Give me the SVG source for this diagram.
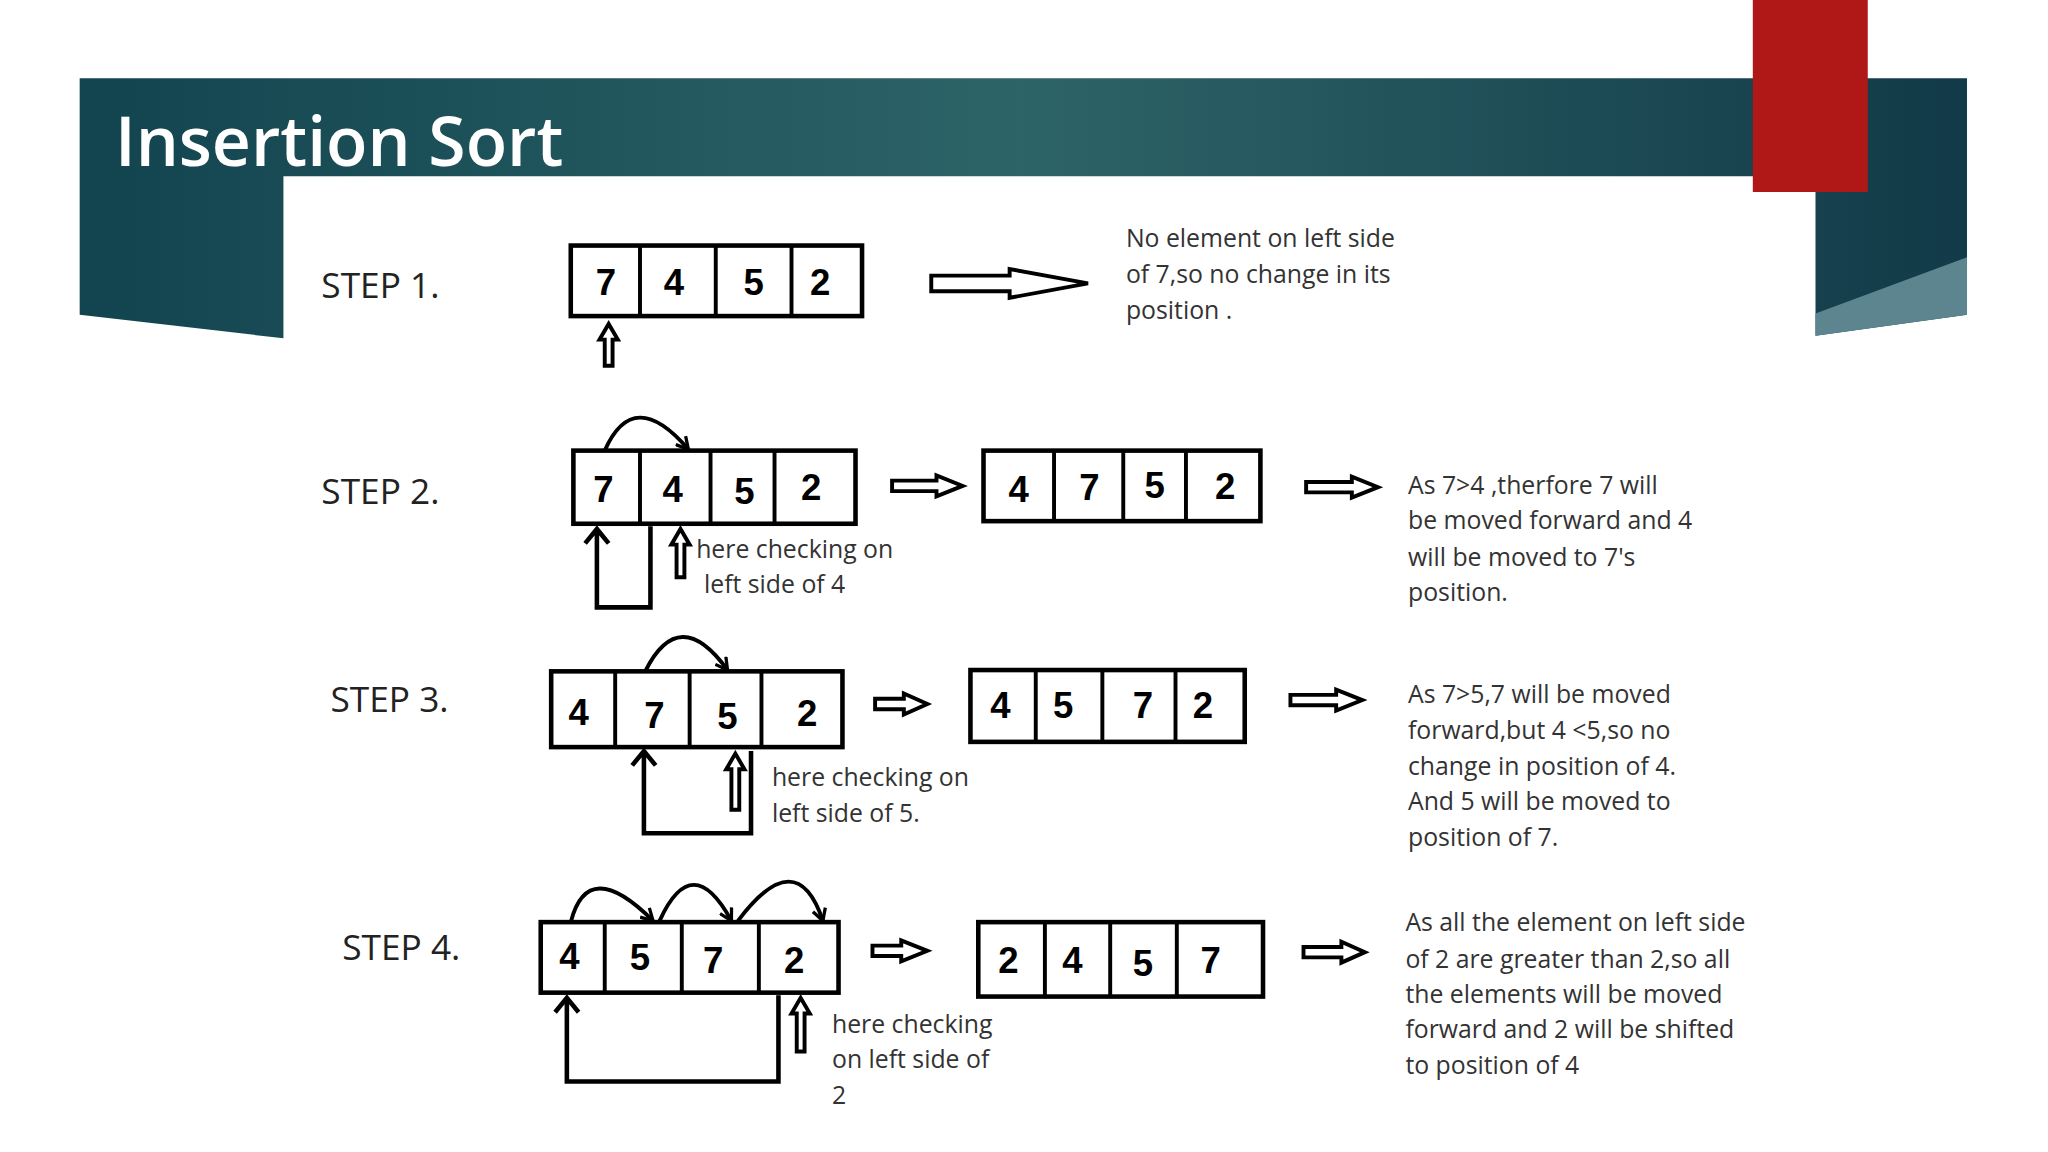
<svg xmlns="http://www.w3.org/2000/svg" width="2048" height="1152" viewBox="0 0 2048 1152">
<defs>
<linearGradient id="bg" x1="0" y1="0" x2="1" y2="0"><stop offset="0" stop-color="#12444f"/><stop offset="0.5" stop-color="#2d6468"/><stop offset="1" stop-color="#123a48"/></linearGradient>
<marker id="ah" viewBox="0 0 12 12" refX="10" refY="6" markerWidth="12" markerHeight="12" markerUnits="userSpaceOnUse" orient="auto"><path d="M1,1 L10,6 L1,11" fill="none" stroke="#000" stroke-width="2.5"/></marker>
</defs>
<style>
.b{fill:#fff;stroke:#000;stroke-width:3.5}
.d{stroke:#000;stroke-width:3}
.n{font-family:"Liberation Sans",Arial,sans-serif;font-weight:bold;font-size:28px;text-anchor:middle}
.s{font-family:"Open Sans","DejaVu Sans",sans-serif;font-size:27px;fill:#222}
.t{font-family:"Open Sans","DejaVu Sans",sans-serif;font-size:19px;fill:#333}
.a{fill:#fff;stroke:#000;stroke-width:3}
.l{fill:none;stroke:#000;stroke-width:3.5}
.c{fill:none;stroke:#000;stroke-width:3;marker-end:url(#ah)}
</style>
<rect width="2048" height="1152" fill="#fff"/>
<g transform="scale(1.30612)">
<g id="banner">
<path d="M61,60 L1506,60 L1506,241 L1390,257 L1390,135 L217,135 L217,259 L61,241 Z" fill="url(#bg)"/>
<path d="M1390,240 L1506,197 L1506,241 L1390,257 Z" fill="#5d8590"/>
<rect x="1342" y="0" width="88" height="147" fill="#b01818"/>
<text x="88" y="127" font-family="Open Sans,DejaVu Sans,sans-serif" font-weight="600" font-size="52" fill="#fff">Insertion Sort</text>
</g>
<g id="step1">
<text class="s" x="246" y="228">STEP 1.</text>
<rect class="b" x="437" y="188" width="223" height="54"/>
<path class="d" d="M490,188V242M548,188V242M606,188V242"/>
<text class="n" x="464" y="226">7</text><text class="n" x="516" y="226">4</text><text class="n" x="577" y="226">5</text><text class="n" x="628" y="226">2</text>
<path class="a" d="M463,280 L463,260 L459,260 L466,248 L473,260 L469,260 L469,280 Z"/>
<path class="a" d="M713,211 L773,211 L773,206 L833,217 L773,228 L773,223 L713,223 Z"/>
<text class="t" x="862" y="189">No element on left side</text>
<text class="t" x="862" y="217">of 7,so no change in its</text>
<text class="t" x="862" y="244">position .</text>
</g>
<g id="step2">
<text class="s" x="246" y="386">STEP 2.</text>
<rect class="b" x="439" y="345" width="216" height="56"/>
<path class="d" d="M490,345V401M544,345V401M593,345V401"/>
<text class="n" x="462" y="384">7</text><text class="n" x="515" y="384">4</text><text class="n" x="570" y="386">5</text><text class="n" x="621" y="383">2</text>
<path class="c" d="M463,345 Q485,295 527,344"/>
<path class="l" d="M498,403 L498,465 L457,465 L457,405 M448,416 L457,405 L466,416"/>
<path class="a" d="M518,442 L518,417 L514,417 L521,405 L528,417 L524,417 L524,442 Z"/>
<text class="t" x="533" y="427">here checking on</text>
<text class="t" x="539" y="454">left side of 4</text>
<path class="a" d="M683,368 L717,368 L717,364 L737,372 L717,380 L717,376 L683,376 Z"/>
<rect class="b" x="753" y="345" width="212" height="54"/>
<path class="d" d="M807,345V399M860,345V399M908,345V399"/>
<text class="n" x="780" y="384">4</text><text class="n" x="834" y="383">7</text><text class="n" x="884" y="381">5</text><text class="n" x="938" y="382">2</text>
<path class="a" d="M1000,369 L1035,369 L1035,365 L1055,373 L1035,381 L1035,377 L1000,377 Z"/>
<text class="t" x="1078" y="378">As 7&gt;4 ,therfore 7 will</text>
<text class="t" x="1078" y="405">be moved forward and 4</text>
<text class="t" x="1078" y="433">will be moved to 7's</text>
<text class="t" x="1078" y="460">position.</text>
</g>
<g id="step3">
<text class="s" x="253" y="545">STEP 3.</text>
<rect class="b" x="422" y="514" width="223" height="58"/>
<path class="d" d="M471,514V572M528,514V572M583,514V572"/>
<text class="n" x="443" y="555">4</text><text class="n" x="501" y="557">7</text><text class="n" x="557" y="558">5</text><text class="n" x="618" y="556">2</text>
<path class="c" d="M494,514 Q520,462 557,513"/>
<path class="l" d="M575,575 L575,638 L493,638 L493,575 M484,586 L493,575 L502,586"/>
<path class="a" d="M560,620 L560,589 L556,589 L563,577 L570,589 L566,589 L566,620 Z"/>
<text class="t" x="591" y="602">here checking on</text>
<text class="t" x="591" y="629">left side of 5.</text>
<path class="a" d="M670,535 L692,535 L692,531 L710,539 L692,547 L692,543 L670,543 Z"/>
<rect class="b" x="743" y="513" width="210" height="55"/>
<path class="d" d="M793,513V568M844,513V568M900,513V568"/>
<text class="n" x="766" y="550">4</text><text class="n" x="814" y="550">5</text><text class="n" x="875" y="550">7</text><text class="n" x="921" y="550">2</text>
<path class="a" d="M988,532 L1023,532 L1023,528 L1043,536 L1023,544 L1023,540 L988,540 Z"/>
<text class="t" x="1078" y="538">As 7&gt;5,7 will be moved</text>
<text class="t" x="1078" y="566">forward,but 4 &lt;5,so no</text>
<text class="t" x="1078" y="593">change in position of 4.</text>
<text class="t" x="1078" y="620">And 5 will be moved to</text>
<text class="t" x="1078" y="648">position of 7.</text>
</g>
<g id="step4">
<text class="s" x="262" y="735">STEP 4.</text>
<rect class="b" x="414" y="706" width="228" height="54"/>
<path class="d" d="M463,706V760M522,706V760M581,706V760"/>
<text class="n" x="436" y="742">4</text><text class="n" x="490" y="743">5</text><text class="n" x="546" y="745">7</text><text class="n" x="608" y="745">2</text>
<path class="c" d="M437,706 Q450,655 500,705"/>
<path class="c" d="M505,705 Q530,650 560,705"/>
<path class="c" d="M565,705 Q610,645 630,705"/>
<path class="l" d="M596,762 L596,828 L434,828 L434,764 M425,775 L434,764 L443,775"/>
<path class="a" d="M610,805 L610,776 L606,776 L613,764 L620,776 L616,776 L616,805 Z"/>
<text class="t" x="637" y="791">here checking</text>
<text class="t" x="637" y="818">on left side of</text>
<text class="t" x="637" y="845">2</text>
<path class="a" d="M668,724 L690,724 L690,720 L710,728 L690,736 L690,732 L668,732 Z"/>
<rect class="b" x="749" y="706" width="218" height="57"/>
<path class="d" d="M800,706V763M850,706V763M901,706V763"/>
<text class="n" x="772" y="745">2</text><text class="n" x="821" y="745">4</text><text class="n" x="875" y="747">5</text><text class="n" x="927" y="745">7</text>
<path class="a" d="M998,725 L1027,725 L1027,721 L1045,729 L1027,737 L1027,733 L998,733 Z"/>
<text class="t" x="1076" y="713">As all the element on left side</text>
<text class="t" x="1076" y="741">of 2 are greater than 2,so all</text>
<text class="t" x="1076" y="768">the elements will be moved</text>
<text class="t" x="1076" y="795">forward and 2 will be shifted</text>
<text class="t" x="1076" y="822">to position of 4</text>
</g>
</g>
</svg>
